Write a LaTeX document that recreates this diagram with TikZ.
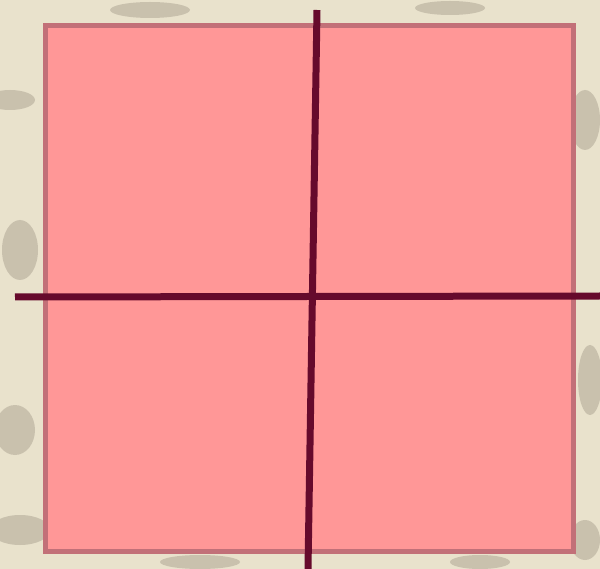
\documentclass[tikz,border=0pt]{standalone}
\usepackage{tikz}
\definecolor{bgbeige}{HTML}{E9E2CC}
\definecolor{bgdark}{HTML}{8E8576}
\definecolor{sqfill}{HTML}{FF9797}
\definecolor{sqedge}{HTML}{C27078}
\definecolor{linecol}{HTML}{660A2C}
\tikzset{
  square/.style={fill=sqfill, draw=sqedge, line width=5pt},
  crossline/.style={draw=linecol, line width=7pt},
  smudge/.style={fill=bgdark, opacity=0.35}
}
\begin{document}
\begin{tikzpicture}[x=1pt,y=-1pt]
\useasboundingbox (0,0) rectangle (600,569);
\fill[bgbeige] (0,0) rectangle (600,569);
% background texture
\fill[smudge] (10,100) ellipse (25 and 10);
\fill[smudge] (20,250) ellipse (18 and 30);
\fill[smudge] (15,430) ellipse (20 and 25);
\fill[smudge] (20,530) ellipse (30 and 15);
\fill[smudge] (585,120) ellipse (15 and 30);
\fill[smudge] (590,380) ellipse (12 and 35);
\fill[smudge] (585,540) ellipse (15 and 20);
\fill[smudge] (150,10) ellipse (40 and 8);
\fill[smudge] (450,8) ellipse (35 and 7);
\fill[smudge] (200,562) ellipse (40 and 7);
\fill[smudge] (480,562) ellipse (30 and 7);
% square
\node[square, minimum width=528pt, minimum height=525pt, inner sep=0pt, anchor=north west] (sq) at (42.5,23.5) {};
% cross lines
\coordinate (vtop) at (317,10);
\coordinate (vbot) at (308,569);
\coordinate (hl) at (15,297);
\coordinate (hr) at (600,296);
\draw[crossline] (vtop) -- (vbot);
\draw[crossline] (hl) -- (hr);
\end{tikzpicture}
\end{document}
